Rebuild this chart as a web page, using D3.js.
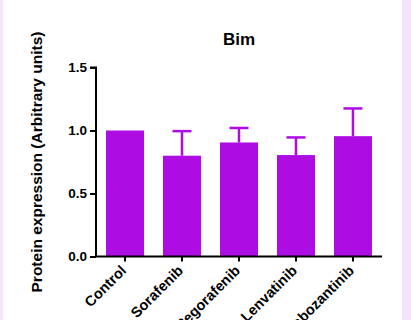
<!DOCTYPE html>
<html><head><meta charset="utf-8">
<script src="https://cdn.jsdelivr.net/npm/d3@7/dist/d3.min.js"></script>
<style>
html,body{margin:0;padding:0;background:#fff;overflow:hidden}
svg{display:block;font-family:Arial,"Liberation Sans",sans-serif}
</style></head>
<body>
<svg id="c" width="411" height="320"></svg>
<script>
const categories = ["Control", "Sorafenib", "Regorafenib", "Lenvatinib", "Cabozantinib"];
const means = [1.0, 0.80, 0.905, 0.805, 0.955];
const errors = [0, 0.195, 0.115, 0.14, 0.22];
const yTicks = [0.0, 0.5, 1.0, 1.5];
const title = "Bim";
const yLabel = "Protein expression (Arbitrary units)";

(function () {
const color = "#AD0CE3";
const svg = d3.select("#c");

// lavender side strips
svg.append("rect").attr("x", 0).attr("y", 0).attr("width", 3).attr("height", 320).attr("fill", "#F3E4FB");
svg.append("rect").attr("x", 402).attr("y", 0).attr("width", 9).attr("height", 320).attr("fill", "#F3E4FB");

const pl = 96, pr = 382, pt = 67.5, pb = 256.5;
const x = d3.scaleBand().domain(categories).range([pl, pr]).paddingInner(0.333).paddingOuter(0.176);
const y = d3.scaleLinear().domain([0, 1.5]).range([pb, pt]);

// bars
svg.append("g").selectAll("rect").data(categories).join("rect")
  .attr("x", d => x(d)).attr("width", x.bandwidth())
  .attr("y", (d, i) => y(means[i])).attr("height", (d, i) => y(0) - y(means[i]))
  .attr("fill", color);

// error bars (upper only)
const eg = svg.append("g").attr("stroke", color);
categories.forEach((d, i) => {
  if (!errors[i]) return;
  const cx = x(d) + x.bandwidth() / 2;
  eg.append("line").attr("x1", cx).attr("x2", cx)
    .attr("y1", y(means[i])).attr("y2", y(means[i] + errors[i])).attr("stroke-width", 2.5);
  eg.append("line").attr("x1", cx - 9.5).attr("x2", cx + 9.5)
    .attr("y1", y(means[i] + errors[i])).attr("y2", y(means[i] + errors[i])).attr("stroke-width", 2.5);
});

// y axis
const ya = svg.append("g").attr("transform", `translate(${pl},0)`)
  .call(d3.axisLeft(y).tickValues(yTicks).tickFormat(d3.format(".1f")).tickSize(6).tickPadding(3));
ya.select(".domain").attr("stroke", "#000").attr("stroke-width", 2).attr("d", `M-6,${pt}H0V${pb}`);
ya.selectAll(".tick line").attr("stroke", "#000").attr("stroke-width", 2);
ya.selectAll(".tick text").attr("font-size", 13.5).attr("font-weight", "bold").attr("fill", "#000")
  .attr("font-family", "Arial, 'Liberation Sans', sans-serif");

// x axis
const xa = svg.append("g").attr("transform", `translate(0,${pb})`)
  .call(d3.axisBottom(x).tickSize(5).tickFormat(""));
xa.select(".domain").attr("stroke", "#000").attr("stroke-width", 2).attr("d", `M${pl - 1},0H${pr}`);
xa.selectAll(".tick line").attr("stroke", "#000").attr("stroke-width", 2);

svg.append("g").selectAll("text").data(categories).join("text")
  .attr("transform", d => `translate(${x(d) + x.bandwidth()/2 + 2},${pb + 15}) rotate(-45)`)
  .attr("text-anchor", "end").attr("font-size", 14.5).attr("font-weight", "bold").attr("fill", "#000")
  .text(d => d);

// title
svg.append("text").attr("x", (pl + pr) / 2).attr("y", 45).attr("text-anchor", "middle")
  .attr("font-size", 17).attr("font-weight", "bold").attr("fill", "#000").text(title);

// y label
svg.append("text").attr("transform", `translate(42,162) rotate(-90)`).attr("text-anchor", "middle")
  .attr("font-size", 15.5).attr("font-weight", "bold").attr("fill", "#000").text(yLabel);
})();
</script>
</body></html>
